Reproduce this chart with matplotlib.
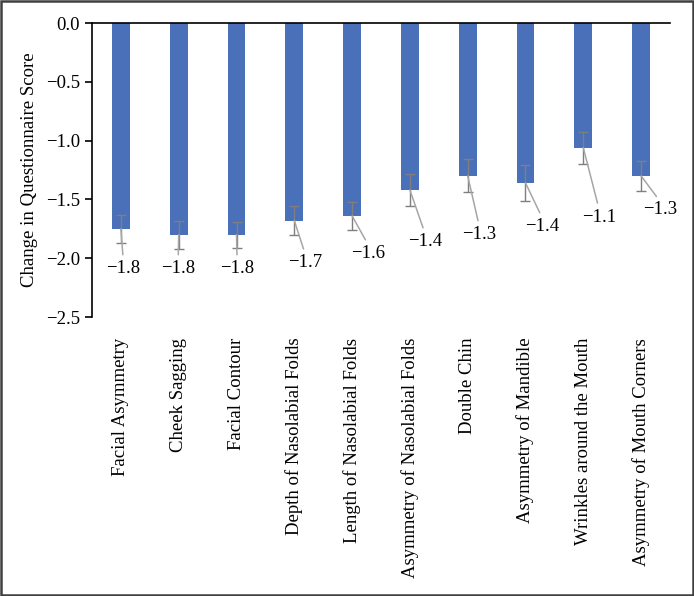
import matplotlib
matplotlib.use("Agg")
import matplotlib.pyplot as plt
from matplotlib.patches import Rectangle

plt.rcParams['font.family'] = ['Liberation Serif', 'DejaVu Serif']

categories = ['Facial Asymmetry', 'Cheek Sagging', 'Facial Contour',
              'Depth of Nasolabial Folds', 'Length of Nasolabial Folds',
              'Asymmetry of Nasolabial Folds', 'Double Chin',
              'Asymmetry of Mandible', 'Wrinkles around the Mouth',
              'Asymmetry of Mouth Corners']
changes = [-1.75, -1.80, -1.80, -1.68, -1.64, -1.42, -1.30, -1.36, -1.06, -1.30]
errors = [0.12, 0.12, 0.11, 0.12, 0.12, 0.14, 0.14, 0.15, 0.135, 0.13]

# where each value label sits (data coords)
label_xy = [(0.04, -2.09), (0.99, -2.09), (2.01, -2.09), (3.19, -2.04),
            (4.28, -1.96), (5.26, -1.86), (6.20, -1.80), (7.29, -1.73),
            (8.27, -1.65), (9.33, -1.59)]

fig = plt.figure(figsize=(6.94, 5.96), dpi=100)
ax = fig.add_axes([0.1326, 0.4681, 0.8328, 0.4933])

x = list(range(len(categories)))
ax.bar(x, changes, width=0.31, color='#4A70B9', zorder=2)
ax.errorbar(x, changes, yerr=errors, fmt='none', ecolor='#7f7f7f',
            elinewidth=1, capsize=3.5, capthick=1, zorder=3)

for i, v in enumerate(changes):
    txt = f"{v:.1f}".replace('-', '\u2212')
    ax.annotate(txt, xy=(i, v), xytext=label_xy[i], ha='center', va='center',
                fontsize=13.5,
                arrowprops=dict(arrowstyle='-', color='#a6a6a6', lw=1.1,
                                relpos=(0.5, 1.0), shrinkA=2, shrinkB=0),
                zorder=4)

ax.set_xlim(-0.5, 9.5)
ax.set_ylim(-2.5, 0)
ax.set_yticks([0, -0.5, -1.0, -1.5, -2.0, -2.5])
ax.set_yticklabels(['0.0', '\u22120.5', '\u22121.0', '\u22121.5', '\u22122.0', '\u22122.5'])
ax.set_xticks(x)
ax.set_xticklabels(categories, rotation=90)
ax.tick_params(axis='x', length=0, pad=15, labelsize=13.5)
ax.tick_params(axis='y', length=5, width=1.2, labelsize=13.5, direction='out')

ax.spines['right'].set_visible(False)
ax.spines['bottom'].set_visible(False)
ax.spines['left'].set_linewidth(1.2)
ax.spines['top'].set_linewidth(1.2)
ax.set_ylabel('Change in Questionnaire Score', fontsize=13.5, labelpad=6)

fig.patches.append(Rectangle((0.0015, 0.0015), 0.997, 0.997, transform=fig.transFigure,
                             fill=False, edgecolor='#404040', linewidth=1.8))

fig.savefig('out.png', dpi=100)
